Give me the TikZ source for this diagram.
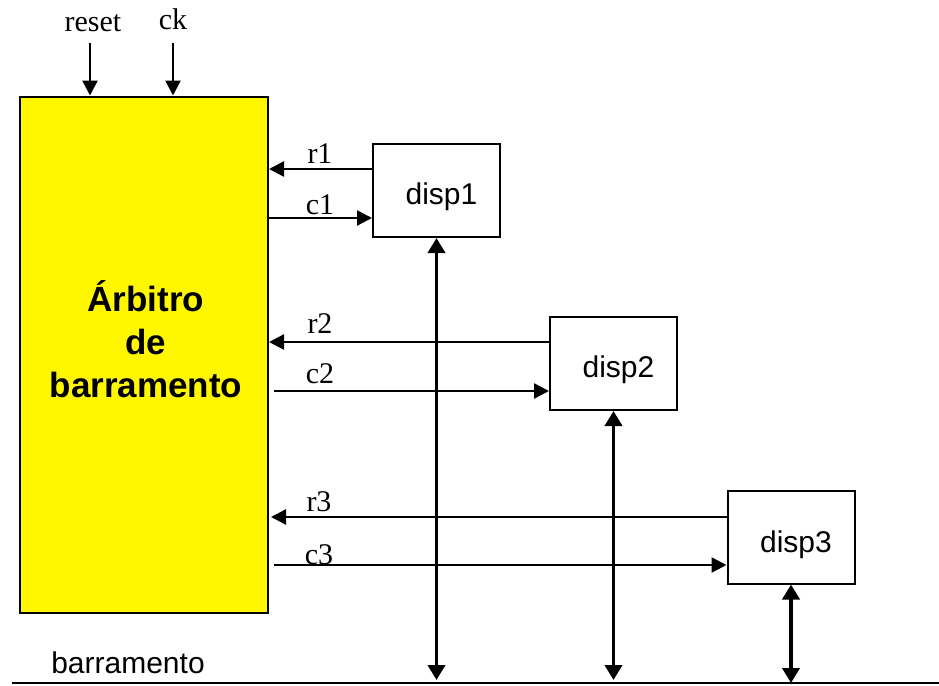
\documentclass[tikz,border=0pt]{standalone}
\usepackage{fontspec}
\setmainfont{Liberation Serif}
\newfontfamily\arial{Liberation Sans}
\usetikzlibrary{arrows.meta}
\definecolor{arbyellow}{RGB}{255,247,0}
\tikzset{
  box/.style={draw=black, line width=2pt, minimum width=127pt, minimum height=93pt, inner sep=0pt},
  sig/.style={line width=2.4pt, -{Triangle[length=15pt,width=15pt]}},
  bus/.style={line width=3.8pt, {Triangle[length=15pt,width=17pt]}-{Triangle[length=15pt,width=17pt]}},
  lbl/.style={font=\fontsize{30}{32}\selectfont, inner sep=0pt, anchor=base},
  dtxt/.style={font=\arial\fontsize{30}{34}\selectfont},
}
\begin{document}
\begin{tikzpicture}[x=1pt,y=-1pt]
\useasboundingbox (0,0) rectangle (939,685);
% arbiter
\node[box, fill=arbyellow, minimum width=248pt, minimum height=516pt] (arb) at (144,354.5) {};
\node[align=center, font=\arial\bfseries\fontsize{35}{43}\selectfont, inner sep=0pt] (arbtxt) at (146,339) {Árbitro\\de\\barramento};
% devices
\node[box, label={[dtxt, xshift=5pt, yshift=-6pt]center:disp1}] (d1) at (436.5,190.5) {};
\node[box, label={[dtxt, xshift=5pt, yshift=-6pt]center:disp2}] (d2) at (613.5,363.5) {};
\node[box, label={[dtxt, xshift=5pt, yshift=-8pt]center:disp3}] (d3) at (791,537) {};
% inputs
\node[lbl] (reset) at (93,32) {reset};
\node[lbl] (ck) at (173,30) {ck};
\coordinate (rs0) at (90,43);
\coordinate (ck0) at (173,43);
\draw[sig] (rs0) -- (rs0 |- arb.north);
\draw[sig] (ck0) -- (ck0 |- arb.north);
% request / grant
\draw[sig] ([yshift=21.5pt]d1.west) -- ([yshift=21.5pt]d1.west -| arb.east);
\draw[sig] ([yshift=-27.5pt]d1.west -| arb.east) -- ([yshift=-27.5pt]d1.west);
\draw[sig] ([yshift=21.5pt]d2.west) -- ([yshift=21.5pt]d2.west -| arb.east);
\draw[sig] ([yshift=-27.5pt,xshift=5pt]d2.west -| arb.east) -- ([yshift=-27.5pt]d2.west);
\draw[sig] ([yshift=20pt]d3.west) -- ([yshift=20pt,xshift=2pt]d3.west -| arb.east);
\draw[sig] ([yshift=-28pt,xshift=5pt]d3.west -| arb.east) -- ([yshift=-28pt]d3.west);
\node[lbl] (r1) at (320,163) {r1};
\node[lbl] (c1) at (320,214) {c1};
\node[lbl] (r2) at (320,333) {r2};
\node[lbl] (c2) at (320,383) {c2};
\node[lbl] (r3) at (319,511) {r3};
\node[lbl] (c3) at (319,564) {c3};
% bus
\coordinate (busL) at (12,683);
\coordinate (busR) at (939,683);
\draw[line width=1.5pt] (busL) -- (busR);
\draw[bus] (d1.south) -- (d1.south |- 0,680);
\draw[bus] (d2.south) -- (d2.south |- 0,680);
\draw[bus] (d3.south) -- (d3.south |- busL);
\node[font=\arial\fontsize{30}{34}\selectfont, anchor=base, inner sep=0pt] (bl) at (128,673) {barramento};
\end{tikzpicture}
\end{document}
